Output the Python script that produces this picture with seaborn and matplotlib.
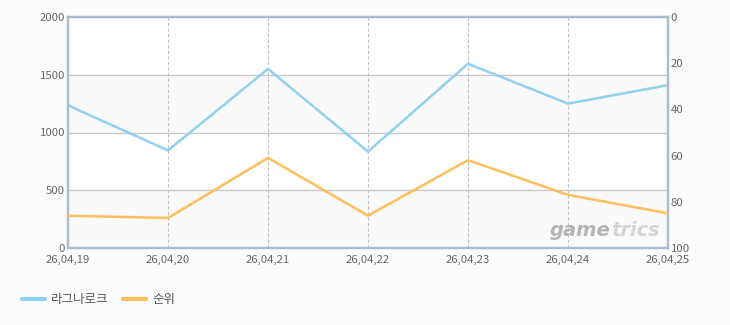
import matplotlib
matplotlib.use("Agg")
import matplotlib.pyplot as plt
import seaborn as sns
import pandas as pd
from matplotlib.lines import Line2D

dates = ["26,04,19", "26,04,20", "26,04,21", "26,04,22", "26,04,23", "26,04,24", "26,04,25"]
ragnarok = [1235, 845, 1550, 835, 1595, 1250, 1410]
rank = [86, 87, 61, 86, 62, 77, 85]
left_ticks = [0, 500, 1000, 1500, 2000]
right_ticks = [0, 20, 40, 60, 80, 100]
series_names = ["라그나로크", "순위"]

sns.set_theme(style="white")
plt.rcParams['font.family'] = ['Noto Sans CJK KR', 'DejaVu Sans']

df = pd.DataFrame({"date": dates, "x": range(len(dates)), "ragnarok": ragnarok, "rank": rank})

fig = plt.figure(figsize=(7.3, 3.25), dpi=100, facecolor="#fcfcfc")
ax = fig.add_axes([68/730, 1-248/325, 600/730, 231/325])
ax.set_facecolor("white")

# alternating bands
for lo, hi in [(0, 500), (1000, 1500)]:
    ax.axhspan(lo, hi, color="#fafafa", zorder=0, lw=0)
for y in [500, 1000, 1500]:
    ax.axhline(y, color="#c8c8c8", lw=1, zorder=1)
for i in range(1, len(dates) - 1):
    ax.axvline(i, color="#c0c0c0", lw=0.8, ls=(0, (3, 2)), zorder=1)

blue = "#92d0f0"
orange = "#ffbe5c"
sns.lineplot(data=df, x="x", y="ragnarok", ax=ax, color=blue, lw=1.8, zorder=3)
ax.set_xlim(0, len(dates) - 1)
ax.set_ylim(0, 2000)
ax.set_yticks(left_ticks)
ax.set_xticks(range(len(dates)))
ax.set_xticklabels(dates)
ax.set_xlabel("")
ax.set_ylabel("")

ax2 = ax.twinx()
sns.lineplot(data=df, x="x", y="rank", ax=ax2, color=orange, lw=1.8, zorder=3)
ax2.set_ylim(100, 0)
ax2.set_yticks(right_ticks)
ax2.set_ylabel("")
ax2.set_xlim(0, len(dates) - 1)

for a in (ax, ax2):
    for s in a.spines.values():
        s.set_color("#aabbd0")
        s.set_linewidth(1.6)
    a.tick_params(axis="both", length=0, labelsize=8.2, labelcolor="#666666", pad=2)

ax.tick_params(axis="x", pad=5)

# watermark
t1 = ax.text(550/730, 1-236/325, "game", transform=fig.transFigure, ha="left", va="baseline",
             fontsize=14, fontstyle="italic", fontweight="bold", color="#b4b4b4",
             family="DejaVu Sans", zorder=2)
ax.annotate("trics", xy=(1, 0), xycoords=t1, xytext=(0, 0), textcoords="offset points",
            ha="left", va="bottom", fontsize=14, fontstyle="italic", fontweight="bold",
            color="#d4d4d4", family="DejaVu Sans", zorder=2, annotation_clip=False)

handles = [Line2D([0], [0], color=blue, lw=3), Line2D([0], [0], color=orange, lw=3)]
fig.legend(handles, series_names, loc="center left", bbox_to_anchor=(0.015, 1-300/325),
           ncol=2, frameon=False, fontsize=9, handlelength=1.8, handletextpad=0.5,
           columnspacing=1.2, labelcolor="#555555")

fig.savefig("out.png", dpi=100, facecolor=fig.get_facecolor())
